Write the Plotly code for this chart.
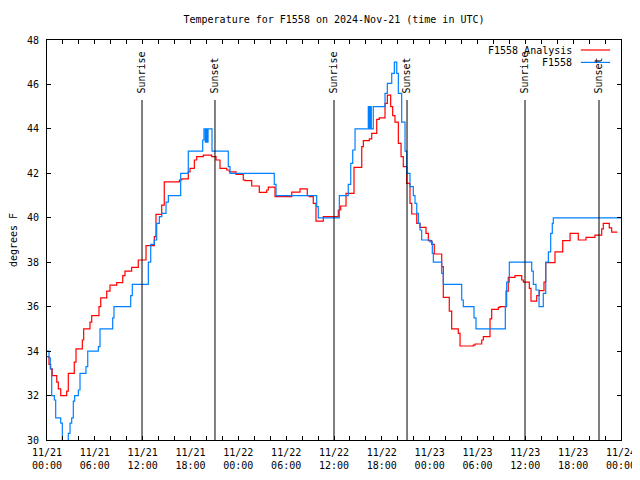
import plotly.graph_objects as go
from datetime import datetime, timedelta

# ---- data (hours since 2024-11-21 00:00 UTC, value in degrees F) ----
analysis_hours = [0.00, 0.25, 0.46, 0.66, 1.22, 1.42, 1.72, 2.47, 2.67, 3.42, 3.64, 4.43, 4.60, 5.39,
                  5.61, 6.52, 6.74, 7.49, 7.90, 8.74, 9.50, 9.78, 10.62, 11.45, 12.42, 13.46, 13.67,
                  14.39, 14.71, 16.60, 16.90, 17.72, 17.94, 18.48, 18.78, 19.61, 20.66, 21.20, 21.70,
                  22.54, 22.87, 23.71, 24.62, 24.84, 25.68, 26.63, 27.56, 27.76, 28.60, 30.70, 31.74,
                  32.65, 32.90, 33.40, 33.74, 34.66, 36.54, 36.84, 37.51, 38.51, 39.48, 39.68, 40.43,
                  40.73, 41.36, 41.68, 42.40, 42.69, 43.11, 43.36, 43.65, 44.07, 44.41, 44.69, 45.12,
                  45.53, 45.75, 46.38, 46.79, 47.54, 47.83, 48.26, 48.58, 49.51, 49.71, 50.46, 50.76,
                  51.59, 51.81, 53.47, 53.69, 54.53, 54.73, 55.57, 55.78, 56.61, 56.82, 57.58, 57.86,
                  58.70, 59.55, 59.75, 60.50, 60.71, 61.43, 61.75, 62.34, 62.56, 63.72, 64.69, 65.61,
                  66.64, 67.61, 68.74, 69.58, 69.78, 70.53, 70.83, 71.54]
analysis_temp = [33.75, 33.4, 33.2, 32.9, 32.6, 32.3, 32.0, 32.2, 33.0, 33.5, 34.1, 34.5, 35.0, 35.3,
                 35.6, 36.0, 36.4, 36.7, 36.97, 37.08, 37.4, 37.6, 37.77, 38.1, 38.75, 39.15, 40.15,
                 40.57, 41.62, 41.7, 41.75, 42.07, 42.22, 42.6, 42.75, 42.82, 42.75, 42.6, 42.22,
                 42.15, 42.07, 41.95, 41.7, 41.67, 41.43, 41.14, 41.25, 41.38, 40.95, 41.15, 41.3,
                 41.0, 40.95, 40.65, 39.85, 40.05, 40.35, 40.53, 41.1, 42.27, 43.2, 43.47, 43.55,
                 43.8, 44.43, 44.5, 45.15, 45.52, 45.0, 44.6, 44.3, 43.35, 42.75, 42.3, 41.55,
                 40.65, 40.17, 39.75, 39.57, 39.3, 38.97, 38.8, 38.37, 37.8, 36.42, 35.8, 35.0,
                 34.8, 34.23, 34.27, 34.32, 34.5, 34.65, 35.45, 35.88, 35.97, 36.0, 36.7, 37.32,
                 37.4, 37.2, 37.1, 36.82, 36.25, 36.5, 36.72, 37.1, 37.98, 38.47, 38.97, 39.3,
                 39.0, 39.12, 39.22, 39.5, 39.75, 39.55, 39.35, 39.35]

obs_hours = [0.00, 0.25, 0.41, 0.59, 0.92, 1.09, 1.72, 1.92, 2.67, 2.89, 3.10, 3.30, 3.47, 3.93,
             4.14, 4.89, 5.11, 6.44, 6.65, 8.24, 8.40, 10.50, 10.70, 12.71, 13.01, 13.46, 13.76,
             14.09, 14.39, 14.93, 15.22, 16.77, 17.72, 19.53, 19.69, 19.86, 19.98, 20.07, 20.20,
             20.70, 22.74, 22.96, 28.51, 28.73, 33.83, 34.03, 36.67, 37.79, 38.10, 38.35, 38.64,
             40.30, 40.43, 40.56, 40.68, 40.93, 42.40, 42.69, 43.24, 43.57, 43.87, 44.07, 44.49,
             44.91, 45.12, 45.53, 45.95, 46.16, 46.38, 46.58, 46.79, 47.00, 48.04, 48.33, 48.46,
             49.51, 49.71, 52.02, 52.22, 53.56, 53.81, 57.49, 57.66, 57.99, 60.80, 61.00, 61.34,
             61.72, 62.25, 62.56, 62.89, 63.18, 63.38, 63.51, 72.00]
obs_temp = [34.0, 33.7, 33.2, 32.0, 31.8, 31.0, 30.76, 29.0, 30.3, 30.76, 31.0, 31.75, 32.0, 32.25,
            33.0, 33.3, 34.0, 34.2, 35.0, 35.5, 36.0, 36.5, 37.0, 38.0, 38.8, 39.0, 39.75,
            40.05, 40.2, 40.7, 41.0, 42.0, 43.0, 43.5, 44.0, 43.4, 44.0, 43.4, 44.0,
            43.0, 42.3, 42.0, 41.5, 41.0, 40.5, 40.0, 41.0, 41.5, 42.45, 43.05, 44.0,
            45.0, 44.0, 45.0, 44.0, 45.0, 45.6, 46.05, 46.5, 47.0, 46.5, 45.6, 44.3,
            43.0, 42.0, 41.4, 41.0, 40.65, 40.2, 39.75, 39.45, 39.0, 38.92, 38.4, 38.0,
            37.5, 37.0, 36.3, 36.0, 35.5, 35.0, 36.0, 37.1, 38.0, 37.6, 37.0, 36.75,
            36.0, 36.6, 38.0, 38.47, 39.3, 39.75, 40.0, 40.0]

sun_hours = [11.92, 21.07, 36.0, 45.16, 59.96, 69.24]
sun_labels = ["Sunrise", "Sunset", "Sunrise", "Sunset", "Sunrise", "Sunset"]

series_names = ["F1558 Analysis", "F1558"]
series_colors = ["#ff0000", "#0080ff"]

y_ticks = [30, 32, 34, 36, 38, 40, 42, 44, 46, 48]
x_tick_hours = [0, 6, 12, 18, 24, 30, 36, 42, 48, 54, 60, 66, 72]

# ---- build ----
base = datetime(2024, 11, 21)
def t(hs):
    return [base + timedelta(hours=h) for h in hs]

FONT = "DejaVu Sans Mono"
# page body has an 8px margin; size the figure so the plot lands where the reference has it
W, H = 632, 472
fig = go.Figure()
for hs, vs, name, col in [(analysis_hours, analysis_temp, series_names[0], series_colors[0]),
                          (obs_hours, obs_temp, series_names[1], series_colors[1])]:
    fig.add_trace(go.Scatter(x=t(hs), y=vs, mode="lines", name=name,
                             line=dict(color=col, width=1.2, shape="hv"), showlegend=False))

sun_top = 45.3
for h, lab in zip(sun_hours, sun_labels):
    ts = base + timedelta(hours=h)
    fig.add_shape(type="line", xref="x", yref="y", x0=ts, x1=ts, y0=30, y1=sun_top,
                  line=dict(color="black", width=1))
    fig.add_annotation(x=ts, y=sun_top + 0.2, xref="x", yref="y", text=lab, textangle=-90,
                       showarrow=False, xanchor="center", yanchor="bottom",
                       font=dict(family=FONT, size=10, color="black"))

# legend drawn gnuplot-style (text right, sample line to the right)
leg_y = [0.975, 0.944]
for name, col, yy in zip(series_names, series_colors, leg_y):
    fig.add_annotation(x=0.918, y=yy, xref="paper", yref="paper", text=name, showarrow=False,
                       xanchor="right", yanchor="middle", font=dict(family=FONT, size=10, color="black"))
    fig.add_shape(type="line", xref="paper", yref="paper", x0=0.930, x1=0.981, y0=yy, y1=yy,
                  line=dict(color=col, width=1.2))

tickvals = t(x_tick_hours)
ticktext = [v.strftime("%m/%d") + "<br>" + v.strftime("%H:%M") for v in tickvals]

fig.update_layout(
    width=W, height=H,
    margin=dict(l=39, r=19, t=32, b=40),
    paper_bgcolor="white", plot_bgcolor="white",
    font=dict(family=FONT, size=10, color="black"),
    title=dict(text="Temperature for F1558 on 2024-Nov-21 (time in UTC)", x=0.5, xref="paper",
               y=1 - 11 / H, yref="container", xanchor="center", yanchor="middle",
               font=dict(family=FONT, size=10, color="black")),
    xaxis=dict(type="date", range=[tickvals[0], tickvals[-1]], tickvals=tickvals, ticktext=ticktext,
               ticks="inside", ticklen=4, tickcolor="black", showline=True, linecolor="black",
               linewidth=1, mirror="allticks", showgrid=False, zeroline=False, ticklabelstandoff=3,
               minor=dict(ticks="inside", ticklen=4, dtick=2 * 3600 * 1000, tickcolor="black",
                          showgrid=False),
               tickfont=dict(family=FONT, size=10, color="black"), automargin=False),
    yaxis=dict(range=[30, 48], tickvals=y_ticks, ticks="inside", ticklen=4, tickcolor="black",
               showline=True, linecolor="black", linewidth=1, mirror="allticks", showgrid=False,
               zeroline=False, ticklabelstandoff=5, tickfont=dict(family=FONT, size=10, color="black"),
               title=dict(text="degrees F", standoff=12, font=dict(family=FONT, size=10, color="black")),
               automargin=False),
)

fig.write_html("out.html")
